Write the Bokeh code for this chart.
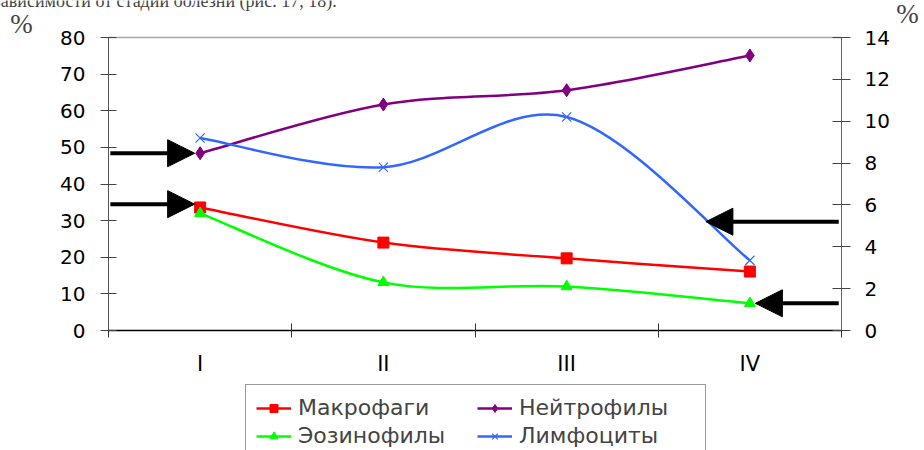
import numpy as np
from bokeh.plotting import figure
from bokeh.models import (Range1d, LinearAxis, FixedTicker, Legend, LegendItem,
                          Arrow, NormalHead, Label)
from bokeh.embed import file_html
from bokeh.resources import INLINE

# Cell counts by disease stage, %
stages = ["I", "II", "III", "IV"]
macrophages = [33.6, 24.0, 19.7, 16.1]      # left axis
neutrophils = [48.4, 61.7, 65.6, 75.1]      # left axis
eosinophils = [5.6, 2.3, 2.1, 1.3]          # right axis
lymphocytes = [9.2, 7.8, 10.2, 3.35]        # right axis

left_ticks = [0, 10, 20, 30, 40, 50, 60, 70, 80]
right_ticks = [0, 2, 4, 6, 8, 10, 12, 14]

# levels pointed at by the arrows
left_arrow_levels = [neutrophils[0], 34.5]
right_arrow_levels = [5.2, eosinophils[3]]

W, H = 924, 450
# plotting area inside the canvas (pixels)
AREA_L, AREA_R, AREA_T, AREA_B = 108, 841, 37, 330

n = len(stages)
xs = np.arange(n) + 0.5
boundaries = list(range(n + 1))
LMAX, RMAX = left_ticks[-1], right_ticks[-1]


def padded_range(lo, hi, px_lo, px_hi, px_min, px_max):
    """Range over the full canvas so that [lo, hi] spans pixels px_lo..px_hi."""
    k = (hi - lo) / (px_hi - px_lo)
    return Range1d(lo - (px_lo - px_min) * k, hi + (px_max - px_hi) * k)


def smooth_segments(x, y):
    """Cubic Bezier segments through the points (Catmull-Rom style smoothing)."""
    x = np.asarray(x, float)
    y = np.asarray(y, float)
    m = len(x)
    px = np.concatenate([[x[0]], x, [x[-1]]])
    py = np.concatenate([[y[0]], y, [y[-1]]])
    return dict(
        x0=x[:-1], y0=y[:-1], x1=x[1:], y1=y[1:],
        cx0=x[:-1] + (px[2:m + 1] - px[0:m - 1]) / 6.0,
        cy0=y[:-1] + (py[2:m + 1] - py[0:m - 1]) / 6.0,
        cx1=x[1:] - (px[3:m + 2] - px[1:m]) / 6.0,
        cy1=y[1:] - (py[3:m + 2] - py[1:m]) / 6.0,
    )


x_range = padded_range(0, n, AREA_L, AREA_R, 0, W)
y_range = padded_range(0, LMAX, H - AREA_B, H - AREA_T, 0, H)
y_right = padded_range(0, RMAX, H - AREA_B, H - AREA_T, 0, H)

p = figure(width=W, height=H, x_range=x_range, y_range=y_range,
           output_backend="svg", toolbar_location=None,
           x_axis_location=None, y_axis_location=None,
           min_border=0, min_border_left=0, min_border_right=0,
           min_border_top=0, min_border_bottom=0)
p.extra_y_ranges = {"right": y_right}
for g in p.grid:
    g.visible = False
p.outline_line_color = None
p.background_fill_color = "white"
p.border_fill_color = "white"

tick_font = "DejaVu Sans"
tick_size = "20px"

yl = LinearAxis(fixed_location=0, bounds=(0, LMAX),
                ticker=FixedTicker(ticks=left_ticks), major_tick_in=8, major_tick_out=8,
                minor_tick_line_color=None, axis_line_color="#555555",
                major_tick_line_color="#444444", major_label_standoff=15,
                major_label_text_font=tick_font, major_label_text_font_size=tick_size,
                major_label_text_color="black")
p.add_layout(yl, "left")

yr = LinearAxis(y_range_name="right", fixed_location=n, bounds=(0, RMAX),
                ticker=FixedTicker(ticks=right_ticks),
                major_tick_in=9, major_tick_out=9, minor_tick_line_color=None,
                axis_line_color="#666666", major_tick_line_color="#444444",
                major_label_standoff=14, major_label_text_font=tick_font,
                major_label_text_font_size=tick_size, major_label_text_color="black")
p.add_layout(yr, "right")

# category axis: labels at the stage centres, tick marks at the stage boundaries
xb = LinearAxis(fixed_location=0, bounds=(0, n),
                ticker=FixedTicker(ticks=list(xs), minor_ticks=boundaries),
                major_label_overrides={float(v): s for v, s in zip(xs, stages)},
                major_tick_line_color=None, minor_tick_in=7, minor_tick_out=7,
                minor_tick_line_color="#333333", axis_line_color="black",
                axis_line_width=1.5, major_label_standoff=14,
                major_label_text_font=tick_font, major_label_text_font_size="21px",
                major_label_text_color="black")
p.add_layout(xb, "below")

# thin grey top edge of the plotting area
xt = LinearAxis(fixed_location=LMAX, bounds=(0, n), ticker=FixedTicker(ticks=[]),
                axis_line_color="#a8a8a8", axis_line_width=1.5,
                major_tick_line_color=None, minor_tick_line_color=None,
                major_label_text_font_size="0px")
p.add_layout(xt, "above")

series = [
    ("Макрофаги", macrophages, "#FF0000", "square", 11, "default"),
    ("Нейтрофилы", neutrophils, "#800080", "diamond", 13, "default"),
    ("Эозинофилы", eosinophils, "#00FF00", "triangle", 11, "right"),
    ("Лимфоциты", lymphocytes, "#3366FF", "x", 13, "right"),
]

items = {}
for name, vals, color, marker, size, rng in series:
    seg = smooth_segments(xs, vals)
    line = p.bezier(line_color=color, line_width=2.5, y_range_name=rng, **seg)
    pts = p.scatter(xs, vals, marker=marker, size=size, fill_color=color,
                    line_color=color, line_width=1.2 if marker == "x" else 1,
                    y_range_name=rng)
    items[name] = LegendItem(label=name, renderers=[line, pts])

# arrows marking the key values
head = dict(size=27, fill_color="black", line_color="black")
for lvl in left_arrow_levels:
    p.add_layout(Arrow(end=NormalHead(**head), x_start=0.01, y_start=lvl,
                       x_end=xs[0] - 0.03, y_end=lvl, line_width=4, line_color="black"))
for lvl, tip in zip(right_arrow_levels, [3.26, xs[3] + 0.03]):
    p.add_layout(Arrow(end=NormalHead(**head), x_start=n - 0.015, y_start=lvl,
                       x_end=tip, y_end=lvl, line_width=4, line_color="black",
                       y_range_name="right"))

p.add_layout(Label(x=-0.475, y=83.8, text="%", text_font="Liberation Serif",
                   text_font_size="27px", text_align="center", text_baseline="middle"))
p.add_layout(Label(x=4.36, y=15.1, text="%", text_font="Liberation Serif",
                   text_font_size="27px", text_align="center", text_baseline="middle",
                   y_range_name="right"))
p.add_layout(Label(x=1.245, y=89.9, text="в зависимости от стадии болезни (рис. 17, 18).",
                   text_font="Liberation Serif", text_font_size="18px",
                   text_align="right", text_baseline="alphabetic"))

legend = Legend(items=[items["Макрофаги"], items["Эозинофилы"],
                       items["Нейтрофилы"], items["Лимфоциты"]],
                ncols=2, location=(245, -9), glyph_width=35, glyph_height=20,
                label_standoff=7, label_text_font=tick_font, label_text_font_size="22px",
                label_height=20, label_width=176, padding=10, spacing=3, margin=0,
                border_line_color="#333333", border_line_width=1,
                background_fill_color="white", background_fill_alpha=1)
p.add_layout(legend, "center")

open("out.html", "w").write(file_html(p, INLINE))
